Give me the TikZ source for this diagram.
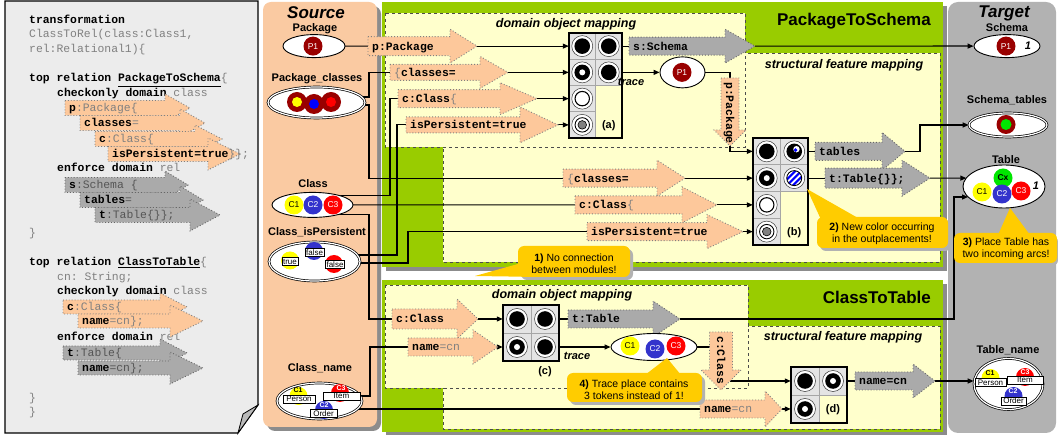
\documentclass[tikz,border=0pt]{standalone}
\usepackage{fontspec}
\setmainfont{Liberation Sans}
\setmonofont{Liberation Mono}
\usetikzlibrary{shapes.geometric,arrows.meta,calc}
\definecolor{peach}{RGB}{253,200,155}
\definecolor{srcpeach}{RGB}{250,202,162}
\definecolor{mgreen}{RGB}{153,204,0}
\definecolor{lyel}{RGB}{255,255,204}
\definecolor{garr}{RGB}{170,170,170}
\definecolor{tgtgray}{RGB}{178,178,178}
\definecolor{paper}{RGB}{236,236,236}
\definecolor{dred}{RGB}{153,0,0}
\definecolor{tyel}{RGB}{255,255,0}
\definecolor{tblue}{RGB}{51,51,204}
\definecolor{tred}{RGB}{255,0,0}
\definecolor{tgreen}{RGB}{0,230,0}
\definecolor{callout}{RGB}{255,204,0}
\definecolor{codegray}{RGB}{128,128,128}
\definecolor{codedk}{RGB}{85,85,85}
\definecolor{shadow}{RGB}{140,140,140}
\definecolor{cellbg}{RGB}{228,228,228}
\pgfdeclarelayer{bg}
\pgfdeclarelayer{mid}
\pgfsetlayers{bg,mid,main}
\newcommand\gtxt[1]{\textcolor{codegray}{#1}}
\newcommand\gdk[1]{\textcolor{codedk}{#1}}
\newcommand\cf{\fontsize{11.4}{14}\selectfont\ttfamily}
\newcommand\lf{\fontsize{11}{12}\selectfont\bfseries}
\newcommand\tkf{\fontsize{8.5}{9}\selectfont}
% block arrow: name, x1, x2(head start), x3(tip), y, half body, half head, style, text
\newcommand\blkarrow[9]{%
  \path[#8] (#2,#5-#6) -- (#3,#5-#6) -- (#3,#5-#7) -- (#4,#5) -- (#3,#5+#7) -- (#3,#5+#6) -- (#2,#5+#6) -- cycle;
  \coordinate (#1-w) at (#2,#5);
  \coordinate (#1-e) at (#4,#5);
  \node[atext] (#1) at (#2+4,#5+4) {#9};}
% vertical block arrow: name, xc, ytop, yhead, ytip, half body, half head, style, text
\newcommand\vblkarrow[9]{%
  \path[#8] (#2-#6,#3) -- (#2+#6,#3) -- (#2+#6,#4) -- (#2+#7,#4) -- (#2,#5) -- (#2-#7,#4) -- (#2-#6,#4) -- cycle;
  \coordinate (#1-n) at (#2,#3);
  \coordinate (#1-s) at (#2,#5);
  \node[atext,rotate=-90] (#1) at (#2-4,#3+4) {#9};}
\newcommand\symOut[1]{\filldraw[fill=white,draw=black!80,line width=0.5pt] (#1) circle (10.5);}
\newcommand\symFull[1]{\symOut{#1}\fill[black] (#1) circle (7.8);}
\newcommand\symRing[1]{\symOut{#1}\fill[black] (#1) circle (7.8);\fill[white] (#1) circle (3);}
\newcommand\symEmpty[1]{\symOut{#1}\filldraw[fill=white,draw=black,line width=1.1pt] (#1) circle (7.2);}
\newcommand\symGray[1]{\symOut{#1}\draw[black,line width=0.9pt] (#1) circle (7.2);\filldraw[fill=gray,draw=black,line width=0.6pt] (#1) circle (4.3);}
\newcommand\symBlue[1]{\symFull{#1}\fill[white] ($(#1)+(2.2,-2.2)$) circle (3.2);\fill[blue] ($(#1)+(1.3,-1.3)$) circle (1.9);}
\newcommand\symStripe[1]{\symOut{#1}\begin{scope}\clip (#1) circle (7.5);\fill[white] (#1) circle (7.5);
  \foreach \d in {-12,-6,0,6,12}{\draw[blue,line width=2.2pt] ($(#1)+(\d-9,9)$) -- ($(#1)+(\d+9,-9)$);}\end{scope}
  \draw[black,line width=0.9pt] (#1) circle (7.5);}
\begin{document}
\begin{tikzpicture}[x=1pt,y=-1pt,
  atext/.style={anchor=base west,inner sep=0pt,font=\cf},
  code/.style={anchor=base west,inner sep=0pt,font=\cf},
  parrow/.style={fill=peach,draw=gray,dotted,line width=0.9pt},
  garrow/.style={fill=garr,draw=gray!80!black,dotted,line width=0.9pt},
  conn/.style={draw=black,line width=1.2pt},
  arr/.style={conn,-{Triangle[length=6pt,width=5pt]}},
  place/.style={ellipse,draw=black,fill=white,line width=0.9pt,inner sep=0pt},
  dplace/.style={ellipse,draw=black,fill=white,line width=0.7pt,double=white,double distance=1.2pt,inner sep=0pt},
  plabel/.style={font=\lf,inner sep=0pt},
  tok/.style={circle,inner sep=0pt,minimum size=19pt,font=\tkf},
  lbox/.style={draw=black,fill=white,line width=0.5pt,inner xsep=1pt,inner ysep=0pt,minimum height=8pt,font=\fontsize{8}{8}\selectfont},
  clbl/.style={inner sep=0pt,font=\fontsize{7}{7}\selectfont\bfseries},
  cA/.style={draw=gray!70,line width=0.5pt,fill=cellbg,minimum width=26.5pt,minimum height=26.25pt,inner sep=0pt},
  cB/.style={draw=gray!70,line width=0.5pt,fill=cellbg,minimum width=27.5pt,minimum height=26.75pt,inner sep=0pt},
  cC/.style={draw=gray!70,line width=0.5pt,fill=cellbg,minimum width=28pt,minimum height=28pt,inner sep=0pt},
  boxlbl/.style={font=\fontsize{12.5}{14}\selectfont\bfseries\itshape,inner sep=0pt},
  ttl/.style={font=\fontsize{17}{20}\selectfont\bfseries,inner sep=0pt},
  trlbl/.style={font=\fontsize{11}{12}\selectfont\bfseries\itshape,inner sep=0pt},
  ctext/.style={align=center,font=\fontsize{10.5}{12}\selectfont,inner sep=0pt},
  ybox/.style={fill=lyel,draw=black!70,dashed,line width=0.8pt}
]
\useasboundingbox (0,0) rectangle (1058,435);
\begin{pgfonlayer}{bg}
\filldraw[fill=paper,draw=black,line width=1.2pt] (5,1) -- (258,1) -- (258,405) -- (238,433) -- (5,433) -- cycle;
\filldraw[fill=gray!55,draw=black,line width=0.8pt] (258,405) -- (243,414) -- (238,433) -- cycle;
\fill[shadow,rounded corners=8pt] (267,6) rectangle (381,431);
\fill[srcpeach,rounded corners=8pt] (263,2) rectangle (377,427);
\fill[tgtgray,rounded corners=10pt] (948,2) rectangle (1056,433);
\fill[shadow] (386,6) rectangle (947,271);
\fill[mgreen] (382,2) rectangle (943,267);
\fill[shadow] (386,284) rectangle (947,436);
\fill[mgreen] (382,280) rectangle (943,432);
\filldraw[ybox] (443,53) rectangle (940,262);
\filldraw[ybox] (385,13) rectangle (745,147);
\filldraw[ybox] (443,326) rectangle (940,429);
\filldraw[ybox] (385,285) rectangle (748,388);
\end{pgfonlayer}

% ---------- code panel ----------
\node[code] (k1) at (29,24) {\textbf{transformation}};
\node[code] (k2) at (29,38) {\gtxt{ClassToRel(class:Class1,}};
\node[code] (k3) at (29,53) {\gtxt{rel:Relational1)\{}};
\node[code] (k4) at (29,82) {\textbf{top relation \underline{PackageToSchema}}\gtxt{\{}};
\node[code] (k5) at (57,97) {\textbf{checkonly domain} \gtxt{class}};
\node[code] (k6) at (57,172) {\textbf{enforce domain} \gtxt{rel}};
\node[code] (k7) at (29,237) {\gtxt{\}}};
\node[code] (k8) at (29,266) {\textbf{top relation \underline{ClassToTable}}\gtxt{\{}};
\node[code] (k9) at (57,281) {\gtxt{cn: String;}};
\node[code] (k10) at (57,295) {\textbf{checkonly domain} \gtxt{class}};
\node[code] (k11) at (57,341) {\textbf{enforce domain} \gtxt{rel}};
\node[code] (k12) at (29,402) {\gtxt{\}}};
\node[code] (k13) at (29,416) {\gtxt{\}}};
\blkarrow{kp}{65}{165}{190}{108}{7.5}{14}{parrow}{\textbf{p}\gtxt{:Package\{}}
\blkarrow{kcl}{80}{180}{205}{123}{7.5}{14}{parrow}{\textbf{classes}\gtxt{=}}
\blkarrow{kc}{95}{195}{222}{139}{7.5}{14}{parrow}{\textbf{c}\gtxt{:Class\{}}
\blkarrow{ki}{108}{208}{240}{154}{7.5}{16}{parrow}{\textbf{isPersistent=true}\gtxt{\}\};}}
\blkarrow{ks}{65}{165}{188}{185}{7.5}{14}{garrow}{\textbf{s}\gdk{:Schema \{}}
\blkarrow{kt}{80}{180}{203}{200}{7.5}{14}{garrow}{\textbf{tables}\gdk{=}}
\blkarrow{ktt}{95}{190}{220}{215}{7.5}{16}{garrow}{\textbf{t}\gdk{:Table\{\}\};}}
\blkarrow{kc2}{63}{160}{187}{307}{7}{14}{parrow}{\textbf{c}\gtxt{:Class\{}}
\blkarrow{kn2}{78}{170}{203}{321}{7}{16}{parrow}{\textbf{name}\gtxt{=cn\};}}
\blkarrow{kt3}{63}{160}{187}{353}{7}{14}{garrow}{\textbf{t}\gdk{:Table\{}}
\blkarrow{kn3}{78}{170}{203}{368}{7}{16}{garrow}{\textbf{name}\gdk{=cn\};}}

% ---------- titles ----------
\node[font=\fontsize{17}{20}\selectfont\bfseries\itshape,inner sep=0pt] (srcT) at (316,13) {Source};
\node[font=\fontsize{17}{20}\selectfont\bfseries\itshape,inner sep=0pt] (tgtT) at (1004,13) {Target};
\node[ttl,anchor=east] (m1T) at (931,21) {PackageToSchema};
\node[ttl,anchor=east] (m2T) at (931,297) {ClassToTable};
\node[boxlbl] (d1L) at (566,24) {domain object mapping};
\node[boxlbl] (s1L) at (844,65) {structural feature mapping};
\node[boxlbl] (d2L) at (562,295) {domain object mapping};
\node[boxlbl] (s2L) at (843,337) {structural feature mapping};

% ---------- source places ----------
\node[plabel] (lPkg) at (315,29) {Package};
\node[place,minimum width=62pt,minimum height=23pt] (PkgSrc) at (314,46.1) {};
\node[tok,fill=dred,text=white] (tP1s) at (313,46.1) {P1};
\node[plabel] (lPkgCls) at (317,79) {Package\_classes};
\node[dplace,minimum width=97pt,minimum height=31pt] (PkgCls) at (316.5,102.5) {};
\node[tok,fill=dred,minimum size=20pt] (pc1) at (297,102) {};
\fill[tyel] (pc1) circle (5);
\node[tok,fill=dred,minimum size=20pt] (pc2) at (314,104) {};
\fill[blue] (pc2) circle (5);
\node[tok,fill=dred,minimum size=20pt] (pc3) at (331,102) {};
\fill[red] (pc3) circle (5);
\node[plabel] (lCls) at (313,184) {Class};
\node[place,minimum width=81pt,minimum height=25pt] (ClsSrc) at (312.5,204.9) {};
\node[tok,fill=tyel] (cs1) at (294,205) {C1};
\node[tok,fill=tblue,text=white] (cs2) at (313,205) {C2};
\node[tok,fill=tred,text=white] (cs3) at (333,205) {C3};
\node[plabel] (lClsP) at (317,232) {Class\_isPersistent};
\node[dplace,minimum width=91pt,minimum height=39pt] (ClsPers) at (314.5,261.5) {};
\node[tok,fill=tyel,minimum size=18pt] (ip1) at (290,260.5) {};
\node[tok,fill=tblue,minimum size=18pt] (ip2) at (314,251) {};
\node[tok,fill=tred,minimum size=18pt] (ip3) at (334,264) {};
\node[lbox] (ip1b) at (290,261.5) {true};
\node[lbox] (ip2b) at (314.5,252.5) {false};
\node[lbox] (ip3b) at (335,264.5) {false};
\node[plabel] (lClsN) at (320,368) {Class\_name};
\node[dplace,minimum width=85pt,minimum height=36pt] (ClsName) at (319.5,401) {};
\node[tok,fill=tyel,minimum size=18pt] (cn1) at (298.5,396) {};
\node[tok,fill=tred,minimum size=18pt] (cn3) at (340,393) {};
\node[tok,fill=tblue,minimum size=18pt] (cn2) at (324,410) {};
\node[clbl] (cn1l) at (298,390) {C1};
\node[clbl,text=white] (cn3l) at (341,388) {C3};
\node[clbl,text=white] (cn2l) at (324,405) {C2};
\node[lbox,minimum width=32pt] (cnPerson) at (299,399) {Person};
\node[lbox,minimum width=37pt] (cnItem) at (341.5,396) {Item};
\node[lbox,minimum width=27pt] (cnOrder) at (323.5,413.5) {Order};

% ---------- target places ----------
\node[plabel] (lSch) at (1007,28) {Schema};
\node[place,minimum width=66pt,minimum height=23pt] (SchTgt) at (1007,46.1) {};
\node[tok,fill=dred,text=white] (tP1t) at (1006,46.1) {P1};
\node[trlbl] (one1) at (1028,46) {1};
\node[plabel] (lSchT) at (1007,100) {Schema\_tables};
\node[dplace,minimum width=78pt,minimum height=24pt] (SchTab) at (1008,125) {};
\node[tok,fill=dred] (stT) at (1006,124.5) {};
\fill[tgreen] (stT) circle (5.5);
\node[plabel] (lTab) at (1006,160) {Table};
\node[place,minimum width=82pt,minimum height=43pt] (TabTgt) at (1004,186.5) {};
\node[tok,fill=tgreen] (tx) at (1003,178) {\textbf{Cx}};
\node[tok,fill=tyel] (t1) at (982,192) {C1};
\node[tok,fill=tred,text=white] (t3) at (1021,191) {C3};
\node[tok,fill=tblue,text=white] (t2) at (1002,194) {C2};
\node[trlbl] (one2) at (1036,186) {1};
\node[plabel] (lTabN) at (1008,350) {Table\_name};
\node[dplace,minimum width=69pt,minimum height=51pt] (TabName) at (1008.5,384) {};
\node[tok,fill=tyel,minimum size=18pt] (tn1) at (990.5,378) {};
\node[tok,fill=tred,minimum size=18pt] (tn3) at (1025,377) {};
\node[tok,fill=tblue,minimum size=18pt] (tn2) at (1013.5,396) {};
\node[clbl] (tn1l) at (990,373) {C1};
\node[clbl,text=white] (tn3l) at (1025,372) {C3};
\node[clbl,text=white] (tn2l) at (1013,391.5) {C2};
\node[lbox,minimum width=31pt] (tnPerson) at (990.5,382.5) {Person};
\node[lbox,minimum width=36pt] (tnItem) at (1025,380) {Item};
\node[lbox,minimum width=25pt] (tnOrder) at (1013.5,401) {Order};

% ---------- block arrows (modules) ----------
\blkarrow{A1}{368}{450}{477}{46.125}{9.5}{17}{parrow}{\textbf{p:Package}}
\blkarrow{A2}{390}{480}{508}{72.375}{8}{16}{parrow}{\gtxt{\{}\textbf{classes=}}
\blkarrow{A3}{398}{500}{537}{98.625}{9}{16}{parrow}{\textbf{c:Class}\gtxt{\{}}
\blkarrow{A4}{406}{520}{558}{124.875}{8}{18}{parrow}{\textbf{isPersistent=true}}
\blkarrow{A5}{629}{725}{755}{46.125}{9}{17}{garrow}{\textbf{s:Schema}}
\vblkarrow{A6}{730}{78}{130}{146}{9}{16}{parrow}{\textbf{p:Package}}
\blkarrow{A7}{815}{882}{905}{151.375}{9}{19}{garrow}{\textbf{tables}}
\blkarrow{A8}{825}{902}{930}{178.125}{10}{18}{garrow}{\textbf{t:Table\{\}\};}}
\blkarrow{A9}{563}{657}{685}{178.125}{9}{18}{parrow}{\gtxt{\{}\textbf{classes=}}
\blkarrow{A10}{575}{682}{717}{204.875}{9}{18}{parrow}{\textbf{c:Class}\gtxt{\{}}
\blkarrow{A11}{587}{707}{743}{231.625}{9}{17}{parrow}{\textbf{isPersistent=true}}
\blkarrow{B1}{392}{457}{478}{319}{10}{20}{parrow}{\textbf{c:Class}}
\blkarrow{B2}{408}{473}{498}{347}{9}{17}{parrow}{\textbf{name}\gtxt{=cn}}
\blkarrow{B3}{568}{653}{680}{319}{9}{18}{garrow}{\textbf{t:Table}}
\vblkarrow{B4}{721}{332}{370}{390}{11.5}{20}{parrow}{\textbf{c:Class}}
\coordinate (B4-l) at (709.5,347);
\coordinate (B4-r) at (730,381);
\blkarrow{B5}{700}{765}{782}{409}{9}{18}{parrow}{\textbf{name}\gtxt{=cn}}
\blkarrow{B6}{855}{913}{935}{381}{9}{17}{garrow}{\textbf{name=cn}}

% ---------- transition blocks ----------
\node[cA] (a11) at (582.25,46.125) {};
\node[cA] (a12) at (608.75,46.125) {};
\node[cA] (a21) at (582.25,72.375) {};
\node[cA] (a22) at (608.75,72.375) {};
\node[cA] (a31) at (582.25,98.625) {};
\node[cA] (a41) at (582.25,124.875) {};
\node[cA,fill=lyel,minimum height=52.5pt] (a3r) at (608.75,111.75) {};
\symFull{a11}\symFull{a12}\symRing{a21}\symFull{a22}\symEmpty{a31}\symGray{a41}
\node[font=\lf,inner sep=0pt] (labA) at (608.75,126) {(a)};
\draw[line width=2pt] (a11.north west) rectangle (a3r.south east);

\node[cB] (b11) at (766.75,151.375) {};
\node[cB] (b12) at (794.25,151.375) {};
\node[cB] (b21) at (766.75,178.125) {};
\node[cB] (b22) at (794.25,178.125) {};
\node[cB] (b31) at (766.75,204.875) {};
\node[cB] (b41) at (766.75,231.625) {};
\node[cB,fill=lyel,minimum height=53.5pt] (b3r) at (794.25,218.25) {};
\symFull{b11}\symBlue{b12}\symRing{b21}\symStripe{b22}\symEmpty{b31}\symGray{b41}
\node[font=\lf,inner sep=0pt] (labB) at (794.25,233) {(b)};
\draw[line width=2pt] (b11.north west) rectangle (b3r.south east);

\node[cC] (c11) at (517,319) {};
\node[cC] (c12) at (545,319) {};
\node[cC] (c21) at (517,347) {};
\node[cC] (c22) at (545,347) {};
\symFull{c11}\symFull{c12}\symRing{c21}\symFull{c22}
\draw[line width=2pt] (c11.north west) rectangle (c22.south east);
\node[font=\lf,inner sep=0pt] (labC) at (545,372) {(c)};

\node[cC] (d11) at (805,381) {};
\node[cC] (d12) at (833,381) {};
\node[cC] (d21) at (805,409) {};
\node[cC,fill=lyel] (d22) at (833,409) {};
\symFull{d11}\symRing{d12}\symRing{d21}
\node[font=\lf,inner sep=0pt] (labD) at (833,410) {(d)};
\draw[line width=2pt] (d11.north west) rectangle (d22.south east);

% ---------- trace places ----------
\node[place,minimum width=45pt,minimum height=31pt] (trA) at (682.5,72.375) {};
\node[tok,fill=dred,text=white] (trAt) at (682,72.375) {P1};
\node[trlbl] (trAl) at (631,82) {trace};
\node[place,minimum width=86pt,minimum height=27pt] (trC) at (654,347) {};
\node[tok,fill=tyel] (trC1) at (630,346) {C1};
\node[tok,fill=tblue,text=white] (trC2) at (655,349) {C2};
\node[tok,fill=tred,text=white] (trC3) at (676,346) {C3};
\node[trlbl] (trCl) at (577,356) {trace};

% ---------- connectors ----------
\begin{pgfonlayer}{mid}
\draw[conn] (PkgSrc.center) -- (A1-w);
\draw[arr] (A1-e) -- (a11.west);
\draw[conn] (a12.east) -- (A5-w);
\draw[arr] (A5-e) -- (SchTgt.west);
\draw[arr] (a22.east) -- (trA.west);
\draw[conn] (trA.center) -| (A6-n);
\draw[arr] (A6-s) |- (b11.west);
\draw[conn] ($(PkgCls.center)+(0,-5.5)$) -| (369,72.375) -- (A2-w);
\draw[arr] (A2-e) -- (a21.west);
\draw[conn] ($(PkgCls.center)+(0,2.5)$) -| (369,178.125) -- (A9-w);
\draw[arr] (A9-e) -- (b21.west);
\draw[conn] ($(ClsSrc.center)+(0,-9.5)$) -| (390,98.625) -- (A3-w);
\draw[arr] (A3-e) -- (a31.west);
\draw[conn] (ClsSrc.center) -- (A10-w);
\draw[arr] (A10-e) -- (b31.west);
\draw[conn] ($(ClsSrc.center)+(0,10)$) -| (369,319) -- (B1-w);
\draw[arr] (B1-e) -- (c11.west);
\draw[conn] ($(ClsPers.center)+(0,-6.5)$) -| (397,124.875) -- (A4-w);
\draw[arr] (A4-e) -- (a41.west);
\draw[conn] ($(ClsPers.center)+(0,1.5)$) -| (408,231.625) -- (A11-w);
\draw[arr] (A11-e) -- (b41.west);
\draw[conn] (b12.east) -- (A7-w);
\draw[arr] (A7-e) -- (920,151.375) |- (SchTab.west);
\draw[conn] (b22.east) -- (A8-w);
\draw[arr] (A8-e) -- ($(TabTgt.center)+(-37.7,-8.4)$);
\draw[conn] (c12.east) -- (B3-w);
\draw[arr] (B3-e) -| (954,197) -- ($(TabTgt.center)+(-36,10.5)$);
\draw[arr] (c22.east) -- (trC.west);
\draw[conn] (trC.center) -- (B4-l);
\draw[arr] (B4-r) -- (d11.west);
\draw[conn] (cnItem.east) -| (370,347) -- (B2-w);
\draw[arr] (B2-e) -- (c21.west);
\draw[conn] (ClsName.center |- B5-w) -- (B5-w);
\draw[arr] (B5-e) -- (d21.west);
\draw[conn] (d12.east) -- (B6-w);
\draw[arr] (B6-e) -- (B6-e -| TabName.west);
\end{pgfonlayer}

% ---------- callouts ----------
\fill[gray!60,rounded corners=6pt] (521,249) rectangle (633,280);
\fill[callout,rounded corners=6pt] (518,246) rectangle (630,277);
\fill[callout] (525,262) -- (475,276) -- (542,277) -- cycle;
\node[ctext] (co1) at (574,263.5) {\textbf{1)} No connection\\between modules!};

\fill[gray!60,rounded corners=6pt] (820,220) rectangle (951,251);
\fill[callout,rounded corners=6pt] (817,217) rectangle (948,248);
\fill[callout] (823,224) -- (807,189) -- (858,218) -- cycle;
\node[ctext] (co2) at (882,233.5) {\textbf{2)} New color occurring\\in the outplacements!};

\fill[gray!60,rounded corners=6pt] (957,236) rectangle (1058,266);
\fill[callout,rounded corners=6pt] (954,233) rectangle (1057,263);
\fill[callout] (998,235) -- (1010,208) -- (1030,235) -- cycle;
\node[ctext] (co3) at (1006,249) {\textbf{3)} Place Table has\\two incoming arcs!};

\fill[gray!60,rounded corners=6pt] (570,376) rectangle (705,405);
\fill[callout,rounded corners=6pt] (567,373) rectangle (702,402);
\fill[callout] (645,375) -- (667,358) -- (681,375) -- cycle;
\node[ctext] (co4) at (634,389.5) {\textbf{4)} Trace place contains\\3 tokens instead of 1!};
\end{tikzpicture}
\end{document}
